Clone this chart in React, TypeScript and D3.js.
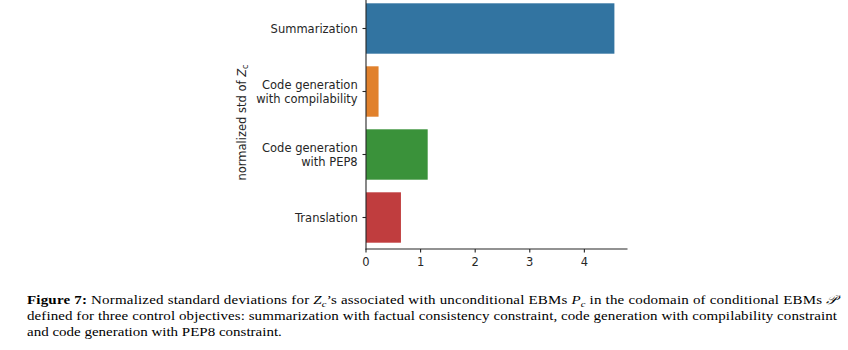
import React from "react";
import * as d3 from "d3";

const categories = [
  "Summarization",
  "Code generation\nwith compilability",
  "Code generation\nwith PEP8",
  "Translation",
];
const values = [4.55, 0.23, 1.13, 0.64];
const colors = ["#3274a1", "#e1812c", "#3a923a", "#c03d3e"];
const xTicks = [0, 1, 2, 3, 4];
const xMax = 4.79;

const W = 848;
const H = 350;

export default function App() {
  const x = d3.scaleLinear().domain([0, xMax]).range([366, 627.5]);
  const y = d3
    .scaleBand<string>()
    .domain(categories)
    .range([-3, 249])
    .paddingInner(0.2)
    .paddingOuter(0.1);
  const axisColor = "#262626";
  const fontTick = "DejaVu Sans, sans-serif";
  const fs = 11.5;
  const lh = 13.8;
  const cap = "Liberation Serif, Times New Roman, serif";
  const capFs = 15;
  const sy = 0.84;

  return (
    <svg
      width={W}
      height={H}
      style={{ position: "absolute", left: 0, top: 0, background: "#fff" }}
    >
      {/* bars */}
      {categories.map((c, i) => (
        <rect
          key={c}
          x={x(0)}
          y={y(c)!}
          width={x(values[i]) - x(0)}
          height={y.bandwidth()}
          fill={colors[i]}
        />
      ))}
      {/* spines */}
      <line x1={x(0)} x2={x(0)} y1={-3} y2={249.5} stroke={axisColor} strokeWidth={1.1} />
      <line x1={x(0) - 0.5} x2={x(xMax)} y1={249} y2={249} stroke={axisColor} strokeWidth={1.1} />
      {/* y ticks */}
      {categories.map((c) => {
        const cy = y(c)! + y.bandwidth() / 2;
        const lines = c.split("\n");
        return (
          <g key={c}>
            <line x1={x(0) - 3.5} x2={x(0)} y1={cy} y2={cy} stroke={axisColor} strokeWidth={1.1} />
            <text
              x={x(0) - 8.3}
              y={cy + 0.3}
              textAnchor="end"
              fontFamily={fontTick}
              fontSize={fs}
              fill={axisColor}
              dominantBaseline="central"
            >
              {lines.map((l, k) => (
                <tspan key={k} x={x(0) - 8.3} dy={k === 0 ? -((lines.length - 1) / 2) * lh : lh}>
                  {l}
                </tspan>
              ))}
            </text>
          </g>
        );
      })}
      {/* x ticks */}
      {xTicks.map((t) => (
        <g key={t}>
          <line x1={x(t)} x2={x(t)} y1={249} y2={252.5} stroke={axisColor} strokeWidth={1.1} />
          <text
            x={x(t)}
            y={265.5}
            textAnchor="middle"
            fontFamily={fontTick}
            fontSize={fs}
            fill={axisColor}
          >
            {t}
          </text>
        </g>
      ))}
      {/* y label */}
      <text
        transform={`translate(245.5,122.5) rotate(-90)`}
        textAnchor="middle"
        fontFamily={fontTick}
        fontSize={fs}
        fill={axisColor}
      >
        normalized std of <tspan fontStyle="italic">Z</tspan>
        <tspan fontSize={8} dy={2}>c</tspan>
      </text>
      {/* caption */}
      <g transform={`translate(27,304) scale(1,${sy})`}>
        <text x={0} y={0} fontFamily={cap} fontSize={capFs} fill="#000" textLength={810} lengthAdjust="spacing">
          <tspan fontWeight="bold">Figure 7:</tspan> Normalized standard deviations for{" "}
          <tspan fontStyle="italic">Z</tspan>
          <tspan fontSize={10.5} dy={3} fontStyle="italic">c</tspan>
          <tspan dy={-3}>’s associated with unconditional EBMs </tspan>
          <tspan fontStyle="italic">P</tspan>
          <tspan fontSize={10.5} dy={3} fontStyle="italic">c</tspan>
          <tspan dy={-3}> in the codomain of conditional EBMs </tspan>
          <tspan fontStyle="italic">𝒫</tspan>
        </text>
      </g>
      <g transform={`translate(27,320) scale(1,${sy})`}>
        <text x={0} y={0} fontFamily={cap} fontSize={capFs} fill="#000" textLength={810} lengthAdjust="spacing">
          defined for three control objectives: summarization with factual consistency constraint, code generation with compilability constraint
        </text>
      </g>
      <g transform={`translate(27,336) scale(1,${sy})`}>
        <text x={0} y={0} fontFamily={cap} fontSize={capFs} fill="#000">
          and code generation with PEP8 constraint.
        </text>
      </g>
    </svg>
  );
}
